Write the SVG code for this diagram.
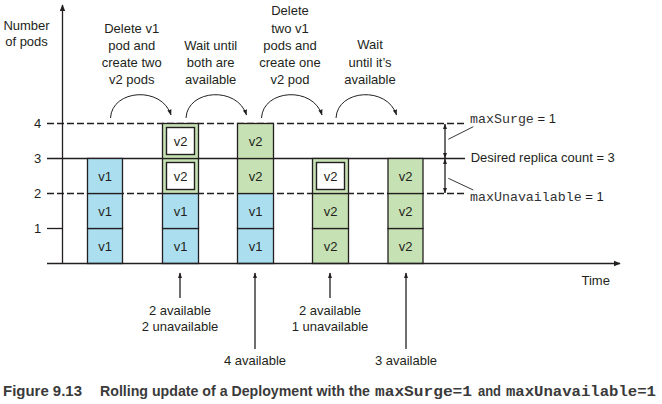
<svg xmlns="http://www.w3.org/2000/svg" width="662" height="404" viewBox="0 0 662 404">
<style>
text{font-family:"Liberation Sans",Arial,sans-serif;font-size:13px;fill:#231f20}
.m{font-family:"Liberation Mono","Courier New",monospace;font-size:13.3px;fill:#333}
.c{text-anchor:middle}
.ln{stroke:#231f20;stroke-width:1.3;fill:none}
.arc{stroke:#231f20;stroke-width:1;fill:none}
.dash{stroke-dasharray:7,3}
.b{fill:#abdff0;stroke:#231f20;stroke-width:1.3}
.g{fill:#c6e1b3;stroke:#231f20;stroke-width:1.3}
.w{fill:#fff;stroke:#231f20;stroke-width:1.4}
.thin{stroke:#231f20;stroke-width:0.9;fill:none}
.cap{font-weight:bold;font-size:14px;fill:#3a3a3a}
.capm{font-family:"Liberation Mono","Courier New",monospace;font-weight:bold;font-size:15px;fill:#3a3a3a}
</style>
<defs>
<marker id="ah" viewBox="0 0 10 10" refX="9" refY="5" markerWidth="7" markerHeight="7" markerUnits="userSpaceOnUse" orient="auto-start-reverse">
<path d="M0,1 L10,5 L0,9 Z" fill="#231f20"/>
</marker>
<marker id="ahs" viewBox="0 0 10 10" refX="9" refY="5" markerWidth="6" markerHeight="6" markerUnits="userSpaceOnUse" orient="auto-start-reverse">
<path d="M0,1.5 L10,5 L0,8.5 Z" fill="#231f20"/>
</marker>
</defs>

<g id="grid">
<line class="ln dash" x1="47" y1="123.5" x2="465" y2="123.5"/>
<line class="ln" x1="47" y1="158.5" x2="465" y2="158.5"/>
<line class="ln dash" x1="47" y1="193.5" x2="465" y2="193.5"/>
<line class="ln" x1="47" y1="228.5" x2="62" y2="228.5"/>
</g>

<g id="col1">
<rect class="b" x="87.5" y="228.5" width="35" height="35"/>
<rect class="b" x="87.5" y="193.5" width="35" height="35"/>
<rect class="b" x="87.5" y="158.5" width="35" height="35"/>
<text class="c" x="105" y="250.7">v1</text>
<text class="c" x="105" y="215.7">v1</text>
<text class="c" x="105" y="180.7">v1</text>
</g>

<g id="col2">
<rect class="b" x="162.5" y="228.5" width="36" height="35"/>
<rect class="b" x="162.5" y="193.5" width="36" height="35"/>
<rect class="g" x="162.5" y="158.5" width="36" height="35"/>
<rect class="g" x="162.5" y="123.5" width="36" height="35"/>
<rect class="w" x="166.5" y="162.5" width="28" height="27"/>
<rect class="w" x="166.5" y="127.5" width="28" height="27"/>
<text class="c" x="180.5" y="250.7">v1</text>
<text class="c" x="180.5" y="215.7">v1</text>
<text class="c" x="180.5" y="180.7">v2</text>
<text class="c" x="180.5" y="145.7">v2</text>
</g>

<g id="col3">
<rect class="b" x="237.5" y="228.5" width="36" height="35"/>
<rect class="b" x="237.5" y="193.5" width="36" height="35"/>
<rect class="g" x="237.5" y="158.5" width="36" height="35"/>
<rect class="g" x="237.5" y="123.5" width="36" height="35"/>
<text class="c" x="255.5" y="250.7">v1</text>
<text class="c" x="255.5" y="215.7">v1</text>
<text class="c" x="255.5" y="180.7">v2</text>
<text class="c" x="255.5" y="145.7">v2</text>
</g>

<g id="col4">
<rect class="g" x="312.5" y="228.5" width="36" height="35"/>
<rect class="g" x="312.5" y="193.5" width="36" height="35"/>
<rect class="g" x="312.5" y="158.5" width="36" height="35"/>
<rect class="w" x="316.5" y="162.5" width="28" height="27"/>
<text class="c" x="330.5" y="250.7">v2</text>
<text class="c" x="330.5" y="215.7">v2</text>
<text class="c" x="330.5" y="180.7">v2</text>
</g>

<g id="col5">
<rect class="g" x="388" y="228.5" width="35" height="35"/>
<rect class="g" x="388" y="193.5" width="35" height="35"/>
<rect class="g" x="388" y="158.5" width="35" height="35"/>
<text class="c" x="405.5" y="250.7">v2</text>
<text class="c" x="405.5" y="215.7">v2</text>
<text class="c" x="405.5" y="180.7">v2</text>
</g>

<g id="axes">
<line class="ln" x1="62.5" y1="264" x2="62.5" y2="5" marker-end="url(#ah)"/>
<line class="ln" x1="47" y1="263.5" x2="620" y2="263.5" marker-end="url(#ah)"/>
<text x="26.5" y="29.7" class="c">Number</text>
<text x="26.5" y="46.4" class="c">of pods</text>
<text x="37.7" y="128.2" class="c">4</text>
<text x="37.7" y="163" class="c">3</text>
<text x="37.7" y="198" class="c">2</text>
<text x="37.7" y="233" class="c">1</text>
<text x="581.5" y="285.4">Time</text>
</g>

<g id="connectors">
<path class="arc" d="M110.5,118 C112,89 162,86 171,115" marker-end="url(#ahs)"/>
<path class="arc" d="M186,118 C187.5,89 237.5,86 246.5,115" marker-end="url(#ahs)"/>
<path class="arc" d="M261.5,118 C263,89 313,86 322,115" marker-end="url(#ahs)"/>
<path class="arc" d="M336,118 C337.5,89 387.5,86 396.5,115" marker-end="url(#ahs)"/>
<line class="ln" x1="445" y1="124" x2="445" y2="158" marker-start="url(#ahs)" marker-end="url(#ahs)"/>
<line class="ln" x1="445" y1="159" x2="445" y2="193" marker-start="url(#ahs)" marker-end="url(#ahs)"/>
<line class="thin" x1="448.3" y1="139.3" x2="473.3" y2="126.7"/>
<line class="thin" x1="448.3" y1="178.3" x2="473.3" y2="190"/>
<line class="ln" x1="180" y1="298" x2="180" y2="273" marker-end="url(#ahs)"/>
<line class="ln" x1="255" y1="349" x2="255" y2="273" marker-end="url(#ahs)"/>
<line class="ln" x1="330" y1="298" x2="330" y2="273" marker-end="url(#ahs)"/>
<line class="ln" x1="406" y1="349" x2="406" y2="273" marker-end="url(#ahs)"/>
</g>

<g id="step-labels">
<text class="c" x="131.7"><tspan x="131.7" y="33">Delete v1</tspan><tspan x="131.7" y="50">pod and</tspan><tspan x="131.7" y="67">create two</tspan><tspan x="131.7" y="84">v2 pods</tspan></text>
<text class="c" x="210.7"><tspan x="210.7" y="50">Wait until</tspan><tspan x="210.7" y="67">both are</tspan><tspan x="210.7" y="84">available</tspan></text>
<text class="c" x="290"><tspan x="290" y="15">Delete</tspan><tspan x="290" y="33">two v1</tspan><tspan x="290" y="50">pods and</tspan><tspan x="290" y="67">create one</tspan><tspan x="290" y="84">v2 pod</tspan></text>
<text class="c" x="370"><tspan x="370" y="48.5">Wait</tspan><tspan x="370" y="66.5">until it’s</tspan><tspan x="370" y="84">available</tspan></text>
</g>

<g id="limit-labels">
<text x="470" y="122.5"><tspan class="m">maxSurge</tspan> = 1</text>
<text x="470.7" y="162">Desired replica count = 3</text>
<text x="470" y="201"><tspan class="m">maxUnavailable</tspan> = 1</text>
</g>

<g id="state-labels">
<text class="c" x="180" y="314.7">2 available</text>
<text class="c" x="180" y="331.4">2 unavailable</text>
<text class="c" x="255" y="364.7">4 available</text>
<text class="c" x="330" y="314.7">2 available</text>
<text class="c" x="330" y="331.4">1 unavailable</text>
<text class="c" x="406" y="364.7">3 available</text>
</g>

<g id="caption">
<text class="cap" x="3" y="395.5" textLength="79" lengthAdjust="spacingAndGlyphs">Figure 9.13</text>
<text class="cap" x="100" y="395.5" textLength="270" lengthAdjust="spacingAndGlyphs">Rolling update of a Deployment with the</text>
<text class="capm" x="375" y="395.5" textLength="97" lengthAdjust="spacingAndGlyphs">maxSurge=1</text>
<text class="cap" x="478" y="395.5" textLength="23" lengthAdjust="spacingAndGlyphs">and</text>
<text class="capm" x="506" y="395.5" textLength="150" lengthAdjust="spacingAndGlyphs">maxUnavailable=1</text>
</g>
</svg>
